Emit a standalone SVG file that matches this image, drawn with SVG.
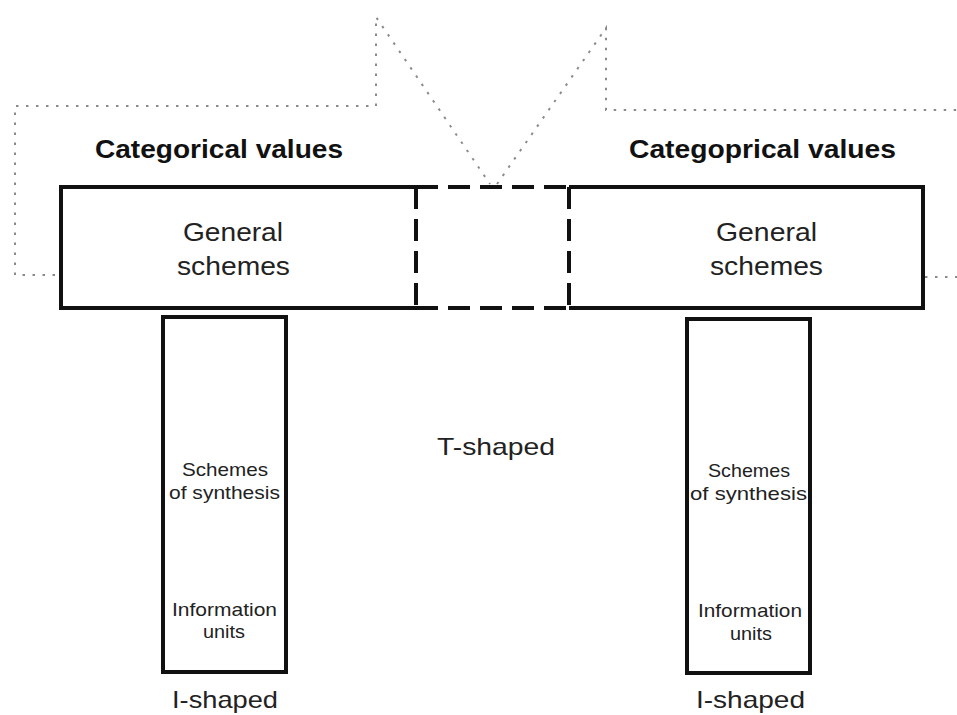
<svg xmlns="http://www.w3.org/2000/svg" width="957" height="715" viewBox="0 0 957 715">
  <style>
    .solid { fill: none; stroke: #111; stroke-width: 4; stroke-linejoin: miter; }
    .dash { fill: none; stroke: #111; stroke-width: 4; stroke-dasharray: 22 10; }
    .dot { fill: none; stroke: #8a8a8a; stroke-width: 2; stroke-dasharray: 2.5 7.5; }
    text { font-family: "Liberation Sans", Arial, Helvetica, sans-serif; fill: #222; }
    .title { font-size: 26px; font-weight: bold; fill: #111; }
    .big { font-size: 26px; }
    .lbl { font-size: 24px; }
    .small { font-size: 19px; }
  </style>
  <rect x="0" y="0" width="957" height="715" fill="#fff"/>

  <!-- dotted outline frames behind the boxes -->
  <g id="connectors">
    <path class="dot" d="M55,275 H15 V106 H376 V17 L490,184"/>
    <path class="dot" d="M497,184 L606,28 V110 H957"/>
    <path class="dot" d="M925,277 H957"/>
  </g>

  <!-- left general box -->
  <g id="left-general">
    <path class="solid" d="M416,187 H61 V308 H416"/>
    <path class="dash" d="M416,187 V308"/>
    <text class="title" x="95" y="158" textLength="248" lengthAdjust="spacingAndGlyphs">Categorical values</text>
    <text class="big" x="183" y="241" textLength="100" lengthAdjust="spacingAndGlyphs">General</text>
    <text class="big" x="177" y="275" textLength="113" lengthAdjust="spacingAndGlyphs">schemes</text>
  </g>

  <!-- dashed bridge between the two general boxes -->
  <g id="bridge">
    <path class="dash" d="M416,187 H569 M416,308 H569"/>
  </g>

  <!-- right general box -->
  <g id="right-general">
    <path class="solid" d="M569,187 H923 V308 H569"/>
    <path class="dash" d="M569,187 V308"/>
    <text class="title" x="629" y="158" textLength="267" lengthAdjust="spacingAndGlyphs">Categoprical values</text>
    <text class="big" x="716" y="241" textLength="101" lengthAdjust="spacingAndGlyphs">General</text>
    <text class="big" x="710" y="275" textLength="113" lengthAdjust="spacingAndGlyphs">schemes</text>
  </g>

  <g id="t-shaped">
    <text class="lbl" x="437" y="455" textLength="118" lengthAdjust="spacingAndGlyphs">T-shaped</text>
  </g>

  <!-- left vertical column -->
  <g id="left-column">
    <rect class="solid" x="163" y="317" width="123" height="355"/>
    <text class="small" x="182" y="476" textLength="86" lengthAdjust="spacingAndGlyphs">Schemes</text>
    <text class="small" x="169" y="499" textLength="111" lengthAdjust="spacingAndGlyphs">of synthesis</text>
    <text class="small" x="172" y="616" textLength="105" lengthAdjust="spacingAndGlyphs">Information</text>
    <text class="small" x="203" y="638" textLength="42" lengthAdjust="spacingAndGlyphs">units</text>
    <text class="lbl" x="172" y="708" textLength="106" lengthAdjust="spacingAndGlyphs">I-shaped</text>
  </g>

  <!-- right vertical column -->
  <g id="right-column">
    <rect class="solid" x="687" y="319" width="123" height="354"/>
    <text class="small" x="708" y="477" textLength="82" lengthAdjust="spacingAndGlyphs">Schemes</text>
    <text class="small" x="690" y="500" textLength="117" lengthAdjust="spacingAndGlyphs">of synthesis</text>
    <text class="small" x="698" y="617" textLength="104" lengthAdjust="spacingAndGlyphs">Information</text>
    <text class="small" x="730" y="640" textLength="42" lengthAdjust="spacingAndGlyphs">units</text>
    <text class="lbl" x="696" y="708" textLength="109" lengthAdjust="spacingAndGlyphs">I-shaped</text>
  </g>
</svg>
